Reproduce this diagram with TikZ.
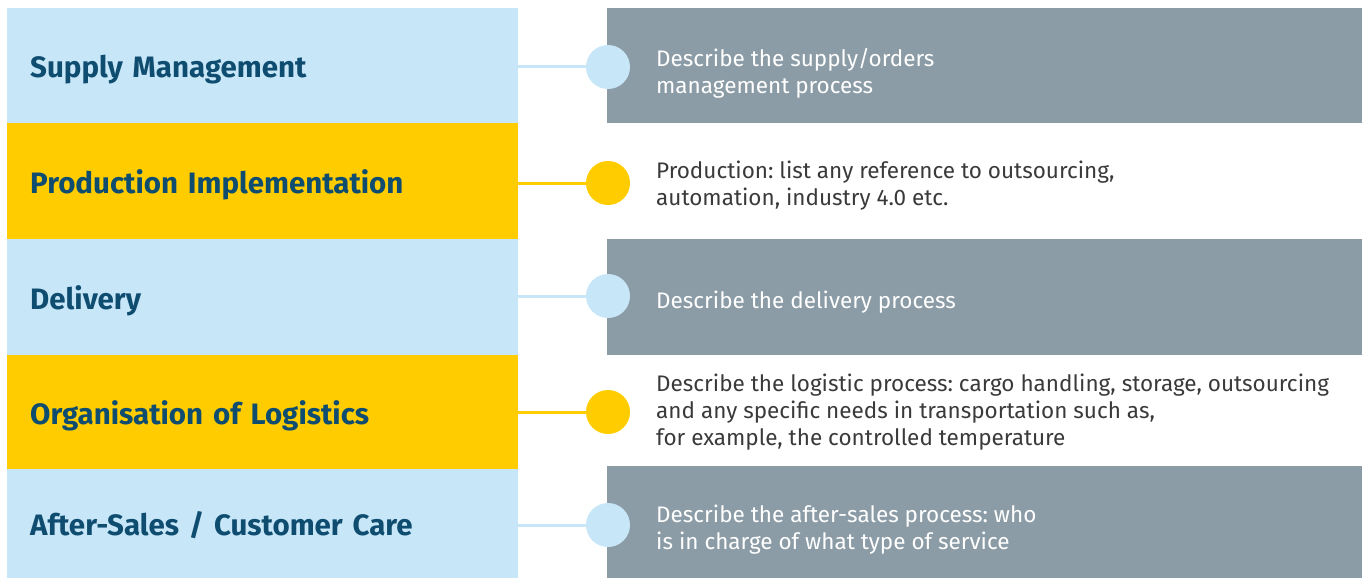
\documentclass[tikz,border=0pt]{standalone}
\usepackage{fontspec}
\setmainfont{Fira Sans}
\frenchspacing
\usetikzlibrary{positioning}
\definecolor{paleblue}{HTML}{C7E6F8}
\definecolor{sunyellow}{HTML}{FFCC00}
\definecolor{slategrey}{HTML}{8B9CA6}
\definecolor{navytext}{HTML}{0E4D70}
\definecolor{darktext}{HTML}{3A3A3A}
\tikzstyle{stage} = [rectangle, anchor=north west, minimum width=511pt, inner xsep=23pt, inner ysep=0pt, text width=465pt, text height=30pt, text depth=6pt, align=left, text=navytext, font=\fontsize{29.5}{32}\selectfont\bfseries]
\tikzstyle{panel} = [rectangle, anchor=north west, minimum width=755pt, inner sep=0pt, fill=slategrey]
\tikzstyle{desc} = [anchor=west, inner sep=0pt, align=left, text=darktext, font=\fontsize{22.5}{27}\selectfont]
\tikzstyle{dot} = [circle, minimum size=44pt, inner sep=0pt]
\tikzstyle{link} = [line width=3pt]

\begin{document}
\begin{tikzpicture}[x=1pt, y=-1pt]
	\useasboundingbox (0,0) rectangle (1362,578);
	% left column
	\node [stage, fill=paleblue, minimum height=115pt] (supply) at (7,8) {Supply Management};
	\node [stage, fill=sunyellow, minimum height=116pt] (production) at (7,123) {Production Implementation};
	\node [stage, fill=paleblue, minimum height=116pt] (delivery) at (7,239) {Delivery};
	\node [stage, fill=sunyellow, minimum height=114pt] (logistics) at (7,355) {Organisation of Logistics};
	\node [stage, fill=paleblue, minimum height=109pt] (aftersales) at (7,469) {After-Sales / Customer Care};
	% right column
	\node [panel, minimum height=115pt] (supplypanel) at (607,8) {};
	\node [panel, minimum height=116pt] (deliverypanel) at (607,239) {};
	\node [panel, minimum height=112pt] (aftersalespanel) at (607,466) {};
	\node [desc, text=white] (supplytext) at (656,73.5) {Describe the supply/orders\\management process};
	\node [desc] (productiontext) at (656,186) {Production: list any reference to outsourcing,\\automation, industry 4.0 etc.};
	\node [desc, text=white] (deliverytext) at (656,302) {Describe the delivery process};
	\node [desc] (logisticstext) at (656,412) {Describe the logistic process: cargo handling, storage, outsourcing\\and any specific needs in transportation such as,\\for example, the controlled temperature};
	\node [desc, text=white] (aftersalestext) at (656,530) {Describe the after-sales process: who\\is in charge of what type of service};
	% connectors
	\node [dot, fill=paleblue] (supplydot) at (608,67) {};
	\node [dot, fill=sunyellow] (productiondot) at (608,183) {};
	\node [dot, fill=paleblue] (deliverydot) at (608,296) {};
	\node [dot, fill=sunyellow] (logisticsdot) at (608,412) {};
	\node [dot, fill=paleblue] (aftersalesdot) at (608,525) {};
	\draw [link, paleblue] (supply.east |- supplydot) -- (supplydot);
	\draw [link, sunyellow] (production.east |- productiondot) -- (productiondot);
	\draw [link, paleblue] (delivery.east |- deliverydot) -- (deliverydot);
	\draw [link, sunyellow] (logistics.east |- logisticsdot) -- (logisticsdot);
	\draw [link, paleblue] (aftersales.east |- aftersalesdot) -- (aftersalesdot);
\end{tikzpicture}
\end{document}
